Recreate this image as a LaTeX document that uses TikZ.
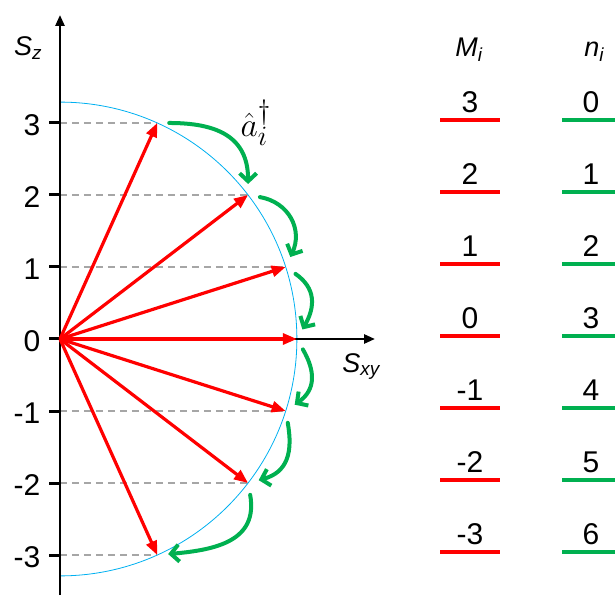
\documentclass[tikz,border=0pt]{standalone}
\usepackage{fontspec}
\setmainfont{Liberation Sans}
\usetikzlibrary{arrows.meta}
\definecolor{vred}{HTML}{FF0000}
\definecolor{vgreen}{HTML}{00B050}
\definecolor{vblue}{HTML}{00B0F0}
\definecolor{dgray}{HTML}{A6A6A6}

\begin{document}
\begin{tikzpicture}[x=72pt,y=72pt,
  vec/.style={draw=vred,line width=3.2pt,-{Triangle[length=14pt,width=11pt]}},
  hop/.style={draw=vgreen,line width=4pt,line cap=round,-{Straight Barb[length=8pt,width=17pt]},shorten <=12pt,shorten >=11pt,looseness=1.3},
  axis/.style={line width=2.5pt,-{Triangle[length=11pt,width=9pt]}},
  lvl/.style={line width=4pt},
  num/.style={font=\fontsize{30}{30}\selectfont,anchor=base,inner sep=0pt},
  lab/.style={font=\fontsize{27}{27}\selectfont\itshape,anchor=base,inner sep=0pt}]
\useasboundingbox (-0.833,-3.556) rectangle (7.708,4.708);
\coordinate (O) at (0,0);
\foreach \m in {3,2,1,0,-1,-2,-3}
  \coordinate (t\m) at ({sqrt(3.29*3.29-(\m)*(\m))},\m);

% levels on the S_z axis
\foreach \m in {3,2,1,-1,-2,-3}
  \draw[dgray,line width=1.5pt,dash pattern=on 7pt off 5pt] (0,\m) -- (t\m);
\foreach \m in {3,2,1,0,-1,-2,-3}{
  \draw[line width=3pt] (-0.15,\m) -- (0,\m);
  \node[num,anchor=base east] (z\m) at (-0.27,\m-0.17) {\m};
}
\draw[vblue,line width=0.8pt] (0,3.29) arc[start angle=90,end angle=-90,radius=3.29];

% axes
\draw[axis] (0,-3.556) -- (0,4.5);
\draw[axis] (O) -- (4.375,0);
\node[lab,anchor=base west] (sz) at (-0.64,3.94) {S\textsubscript{z}};
\node[lab,anchor=base west] (sxy) at (3.92,-0.46) {S\textsubscript{xy}};

% spin vectors
\foreach \m in {3,2,1,0,-1,-2,-3}
  \draw[vec] (O) -- (t\m);

% raising steps
\draw[hop] (t3) to[out=0,in=90] (t2);
\draw[hop] (t2) to[out=-10,in=65] (t1);
\draw[hop] (t1) to[out=-35,in=60] (t0);
\draw[hop] (t0) to[out=-60,in=35] (t-1);
\draw[hop] (t-1) to[out=-80,in=15] (t-2);
\draw[hop] (t-2) to[out=-80,in=5] (t-3);
\node[scale=1.35] (adag) at (2.72,3.0) {\Huge$\hat{a}_i^\dagger$};

% M_i and n_i ladders
\node[lab] (mi) at (5.68,3.93) {M\textsubscript{i}};
\node[lab] (ni) at (7.42,3.92) {n\textsubscript{i}};
\foreach \m/\n in {3/0,2/1,1/2,0/3,-1/4,-2/5,-3/6}{
  \draw[vred,lvl] (5.278,\m+0.04) -- (6.111,\m+0.04);
  \node[num] (m\m) at (5.694,\m+0.15) {\m};
  \draw[vgreen,lvl] (6.972,\m+0.04) -- (7.708,\m+0.04);
  \node[num] (n\n) at (7.375,\m+0.15) {\n};
}
\end{tikzpicture}
\end{document}
